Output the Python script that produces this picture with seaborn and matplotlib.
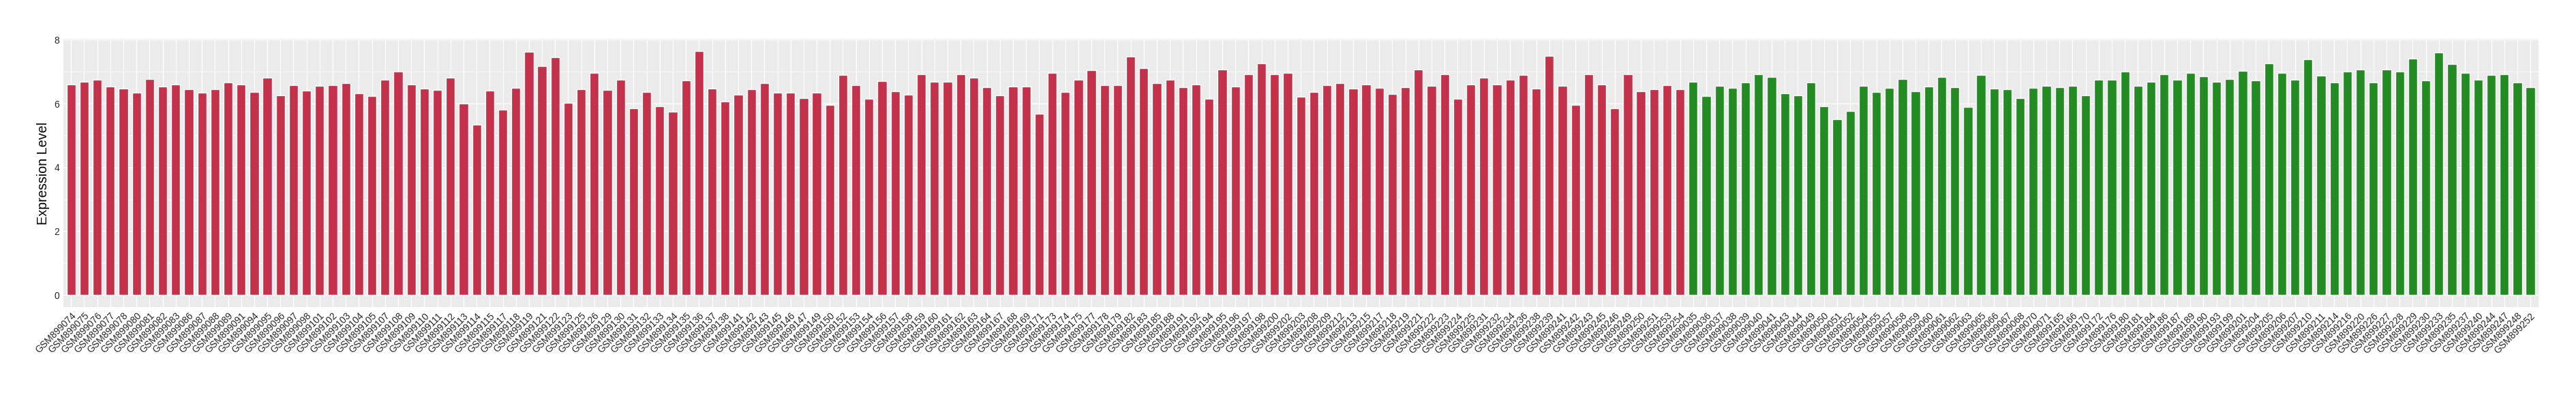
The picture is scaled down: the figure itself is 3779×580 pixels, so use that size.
import matplotlib
matplotlib.use("Agg")
import matplotlib.pyplot as plt
import pandas as pd
import seaborn as sns
from matplotlib.ticker import MultipleLocator

# sample ids (GSM899xxx suffixes) and expression values
tumor_ids = [
    "074", "075", "076", "077", "078", "080", "081", "082", "083", "086",
    "087", "088", "089", "091", "094", "095", "096", "097", "098", "101",
    "102", "103", "104", "105", "107", "108", "109", "110", "111", "112",
    "113", "114", "115", "117", "118", "119", "121", "122", "123", "125",
    "126", "129", "130", "131", "132", "133", "134", "135", "136", "137",
    "138", "141", "142", "143", "145", "146", "147", "149", "150", "152",
    "153", "154", "156", "157", "158", "159", "160", "161", "162", "163",
    "164", "167", "168", "169", "171", "173", "174", "175", "177", "178",
    "179", "182", "183", "185", "188", "191", "192", "194", "195", "196",
    "197", "198", "200", "202", "203", "208", "209", "212", "213", "215",
    "217", "218", "219", "221", "222", "223", "224", "225", "231", "232",
    "234", "236", "238", "239", "241", "242", "243", "245", "246", "249",
    "250", "251", "253", "254",
]
tumor_values = [
    6.60, 6.68, 6.75, 6.53, 6.47, 6.34, 6.78, 6.53, 6.61, 6.45,
    6.34, 6.45, 6.66, 6.60, 6.36, 6.81, 6.26, 6.57, 6.40, 6.55,
    6.57, 6.64, 6.32, 6.23, 6.75, 7.00, 6.61, 6.47, 6.42, 6.81,
    6.00, 5.33, 6.40, 5.82, 6.49, 7.62, 7.17, 7.45, 6.02, 6.45,
    6.97, 6.42, 6.76, 5.85, 6.36, 5.91, 5.74, 6.72, 7.64, 6.47,
    6.06, 6.27, 6.45, 6.64, 6.34, 6.34, 6.17, 6.34, 5.96, 6.90,
    6.57, 6.15, 6.70, 6.38, 6.27, 6.91, 6.68, 6.68, 6.91, 6.81,
    6.51, 6.26, 6.53, 6.53, 5.68, 6.97, 6.36, 6.75, 7.04, 6.57,
    6.57, 7.47, 7.12, 6.64, 6.76, 6.51, 6.60, 6.15, 7.08, 6.53,
    6.93, 7.27, 6.91, 6.97, 6.21, 6.36, 6.57, 6.64, 6.47, 6.61,
    6.49, 6.30, 6.51, 7.08, 6.55, 6.91, 6.15, 6.60, 6.81, 6.60,
    6.76, 6.90, 6.47, 7.49, 6.55, 5.97, 6.91, 6.60, 5.85, 6.91,
    6.38, 6.45, 6.57, 6.45,
]

normal_ids = [
    "035", "036", "037", "038", "039", "040", "041", "043", "044", "049",
    "050", "051", "052", "054", "055", "057", "058", "059", "060", "061",
    "062", "063", "065", "066", "067", "068", "070", "071", "165", "166",
    "170", "172", "176", "180", "181", "184", "186", "187", "189", "190",
    "193", "199", "201", "204", "205", "206", "207", "210", "211", "214",
    "216", "220", "226", "227", "228", "229", "230", "233", "235", "237",
    "240", "244", "247", "248", "252",
]
normal_values = [
    6.68, 6.23, 6.55, 6.49, 6.66, 6.91, 6.83, 6.32, 6.26, 6.66,
    5.91, 5.51, 5.76, 6.55, 6.36, 6.49, 6.78, 6.38, 6.53, 6.83,
    6.51, 5.89, 6.90, 6.47, 6.45, 6.17, 6.49, 6.55, 6.51, 6.55,
    6.26, 6.76, 6.76, 7.00, 6.55, 6.68, 6.91, 6.76, 6.96, 6.85,
    6.68, 6.78, 7.02, 6.72, 7.27, 6.97, 6.75, 7.38, 6.87, 6.66,
    7.00, 7.08, 6.66, 7.06, 7.00, 7.41, 6.72, 7.60, 7.23, 6.96,
    6.75, 6.90, 6.91, 6.66, 6.51,
]

group_colors = {"tumor": "#C3314A", "normal": "#228B22"}

df = pd.DataFrame({
    "sample": ["GSM899" + s for s in tumor_ids + normal_ids],
    "value": tumor_values + normal_values,
    "group": ["tumor"] * len(tumor_ids) + ["normal"] * len(normal_ids),
})

sns.set_style("darkgrid", {
    "axes.facecolor": "#EBEBEB",
    "grid.color": "white",
})
plt.rcParams["font.family"] = ["Liberation Sans", "DejaVu Sans"]

W, H = 3780, 580
fig = plt.figure(figsize=(W / 100, H / 100), dpi=100)
# panel box in pixels: left, right, top, bottom
p_left, p_right, p_top, p_bottom = 92.7, 3723.6, 57.4, 451.0
ax = fig.add_axes([p_left / W, 1 - p_bottom / H, (p_right - p_left) / W, (p_bottom - p_top) / H])

sns.barplot(data=df, x="sample", y="value", hue="group", palette=group_colors,
            dodge=False, width=0.69, saturation=1, legend=False, ax=ax)

n = len(df)
ymax = df["value"].max()
ax.set_xlim(-0.6, n - 1 + 0.6)
ax.set_ylim(-0.05 * ymax, 1.05 * ymax)

ax.yaxis.set_major_locator(MultipleLocator(2))
ax.yaxis.set_minor_locator(MultipleLocator(1))
ax.set_axisbelow(True)
ax.grid(which="major", axis="both", color="white", linewidth=1.0)
ax.grid(which="minor", axis="y", color="white", linewidth=0.5)

for s in ax.spines.values():
    s.set_visible(False)

ax.tick_params(axis="both", which="major", length=2.5, width=0.8, color="#333333",
               labelcolor="#262626", labelsize=10, pad=1.5)
ax.tick_params(axis="y", which="minor", length=0)
plt.setp(ax.get_xticklabels(), rotation=45, ha="right", va="top", rotation_mode="anchor")

ax.set_xlabel("")
ax.set_ylabel("Expression Level", fontsize=14.2, color="black", labelpad=4.5)

fig.savefig("out.png", dpi=100)
